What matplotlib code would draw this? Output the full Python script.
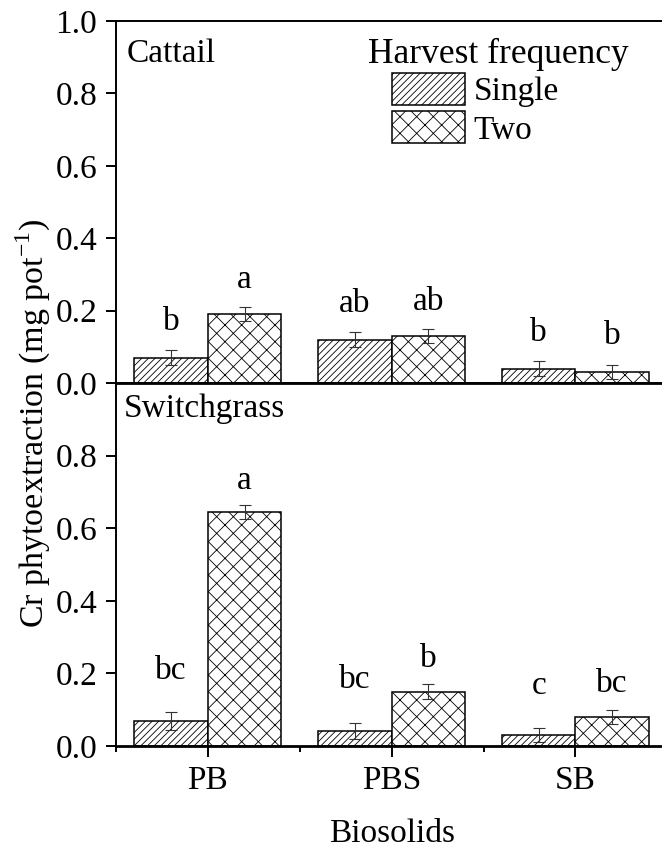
import numpy as np
import matplotlib
matplotlib.use("Agg")
import matplotlib.pyplot as plt

plt.rcParams['font.family'] = ['Liberation Serif', 'DejaVu Serif']
plt.rcParams['mathtext.fontset'] = 'custom'
plt.rcParams['mathtext.rm'] = 'Liberation Serif'
plt.rcParams['hatch.linewidth'] = 0.6

biosolids = ['PB', 'PBS', 'SB']
harvest = ['Single', 'Two']

# cattail
cat_single = [0.07, 0.12, 0.04]
cat_two = [0.19, 0.13, 0.03]
cat_single_err = [0.02, 0.02, 0.02]
cat_two_err = [0.02, 0.02, 0.02]
cat_single_let = ['b', 'ab', 'b']
cat_two_let = ['a', 'ab', 'b']

# switchgrass
sw_single = [0.07, 0.04, 0.03]
sw_two = [0.645, 0.15, 0.08]
sw_single_err = [0.025, 0.022, 0.02]
sw_two_err = [0.02, 0.02, 0.02]
sw_single_let = ['bc', 'bc', 'c']
sw_two_let = ['a', 'b', 'bc']

fs = 24
fig = plt.figure(figsize=(6.62, 8.51), dpi=100)
ax1 = fig.add_axes([0.1752, 0.5499, 0.8328, 0.4254])
ax2 = fig.add_axes([0.1752, 0.1234, 0.8328, 0.4265])

x = np.arange(len(biosolids))
w = 0.4


def panel(ax, s, t, se, te, sl, tl, name, pos, extra):
    ax.bar(x - w/2, s, w, color='white', edgecolor='black', hatch='/////', linewidth=1.1, label=harvest[0])
    ax.bar(x + w/2, t, w, color='white', edgecolor='black', hatch='xx', linewidth=1.1, label=harvest[1])
    ax.errorbar(x - w/2, s, yerr=se, fmt='none', ecolor='#333333', elinewidth=0.8, capsize=4, capthick=0.8)
    ax.errorbar(x + w/2, t, yerr=te, fmt='none', ecolor='#333333', elinewidth=0.8, capsize=4, capthick=0.8)
    for i in range(len(x)):
        ax.text(x[i] - w/2, s[i] + se[i] + extra[0][i], sl[i], ha='center', va='center', fontsize=fs)
        ax.text(x[i] + w/2, t[i] + te[i] + extra[1][i], tl[i], ha='center', va='center', fontsize=fs)
    ax.set_xlim(-0.5, 2.5)
    ax.set_ylim(0, 1.0)
    ax.text(pos[0], pos[1], name, transform=ax.transAxes, ha='left', va='baseline', fontsize=fs)
    for sp in ax.spines.values():
        sp.set_linewidth(1.4)
    ax.tick_params(axis='y', direction='out', length=7.5, width=1.4, labelsize=fs, pad=6)


panel(ax1, cat_single, cat_two, cat_single_err, cat_two_err, cat_single_let, cat_two_let,
      'Cattail', (0.02, 0.887), [[0.08, 0.08, 0.08], [0.075, 0.075, 0.08]])
panel(ax2, sw_single, sw_two, sw_single_err, sw_two_err, sw_single_let, sw_two_let,
      'Switchgrass', (0.0145, 0.906), [[0.113, 0.12, 0.117], [0.067, 0.069, 0.072]])

ax1.set_yticks(np.arange(0, 1.01, 0.2))
ax1.set_yticklabels(['%.1f' % v for v in np.arange(0, 1.01, 0.2)])
ax1.set_xticks([])
ax1.spines['bottom'].set_linewidth(2.0)

ax2.set_yticks(np.arange(0, 0.81, 0.2))
ax2.set_yticklabels(['%.1f' % v for v in np.arange(0, 0.81, 0.2)])
ax2.set_xticks(x)
ax2.set_xticklabels(biosolids)
ax2.set_xticks([-0.5, 0.5, 1.5, 2.5], minor=True)
ax2.tick_params(axis='x', which='major', direction='out', length=8, width=1.4, labelsize=fs, pad=6)
ax2.tick_params(axis='x', which='minor', direction='out', length=4.5, width=1.4)
ax2.spines['bottom'].set_linewidth(2.0)
ax2.spines['top'].set_linewidth(2.0)
ax2.set_xlabel('Biosolids', fontsize=fs, labelpad=16)

fig.text(0.05, 0.503, 'Cr phytoextraction (mg pot$^{-1}$)', rotation=90,
         ha='center', va='center', fontsize=24.5)

ax1.text(0.457, 0.884, 'Harvest frequency', transform=ax1.transAxes, ha='left', va='baseline', fontsize=25.5)
leg = ax1.legend(fontsize=fs, frameon=False, loc='upper left', bbox_to_anchor=(0.5006, 0.856),
                 handlelength=2.2, handleheight=1.1, handletextpad=0.25, labelspacing=0.12,
                 borderaxespad=0, borderpad=0)

fig.savefig('out.png', dpi=100)
